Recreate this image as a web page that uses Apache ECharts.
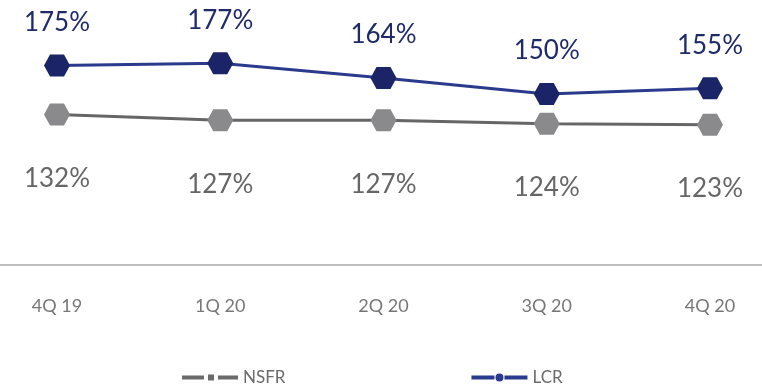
<!DOCTYPE html>
<html><head><meta charset="utf-8">
<script src="https://cdn.jsdelivr.net/npm/echarts@6/dist/echarts.min.js"></script>
<style>html,body{margin:0;padding:0;background:#fff}#c{width:762px;height:385px}</style>
</head><body><div id="c"></div>
<script>
const categories = ['4Q 19','1Q 20','2Q 20','3Q 20','4Q 20'];
const nsfr = [132,127,127,124,123];
const lcr = [175,177,164,150,155];

const hex = 'path://M6,0L20,0L26,11L20,22L6,22L0,11Z';
const fontF = 'Lato, "Open Sans", sans-serif';
const chart = echarts.init(document.getElementById('c'), null, {renderer:'canvas'});
chart.setOption({
  animation:false,
  grid:{left:57,right:52,top:37,bottom:120},
  xAxis:{type:'category',data:categories,boundaryGap:false,
    axisLine:{show:false},axisTick:{show:false},
    axisLabel:{margin:32,color:'#777',fontSize:18,fontFamily:fontF}},
  yAxis:{type:'value',min:0,max:200,show:false,splitLine:{show:false}},
  graphic:[{type:'line',shape:{x1:0,y1:265,x2:762,y2:265},style:{stroke:'#bdbdbd',lineWidth:2},silent:true}],
  legend:{left:177,top:364,itemGap:186,itemWidth:56,itemHeight:8,
    textStyle:{color:'#6b6b6b',fontSize:17,fontFamily:fontF},
    data:[
      {name:'NSFR',icon:'path://M0,2H22V6H0Z M26,1H32V7H26Z M36,2H56V6H36Z',itemStyle:{color:'#6b6b6b'}},
      {name:'LCR',icon:'path://M0,2H23V6H0Z M32,4A4,4,0,1,1,24,4A4,4,0,1,1,32,4Z M33,2H56V6H33Z',itemStyle:{color:'#2a3a8c'}}
    ]},
  series:[
    {name:'NSFR',type:'line',data:nsfr,symbol:hex,symbolSize:[26,22],
      lineStyle:{color:'#666',width:3},itemStyle:{color:'#8a8a8c'},
      label:{show:true,position:'bottom',distance:40,color:'#666',fontSize:26,fontFamily:fontF,formatter:'{c}%'}},
    {name:'LCR',type:'line',data:lcr,symbol:hex,symbolSize:[26,22],
      lineStyle:{color:'#2a3a8c',width:3},itemStyle:{color:'#1b2466'},
      label:{show:true,position:'top',distance:19,color:'#1f2a6b',fontSize:26,fontFamily:fontF,formatter:'{c}%'}}
  ]
});
</script></body></html>
